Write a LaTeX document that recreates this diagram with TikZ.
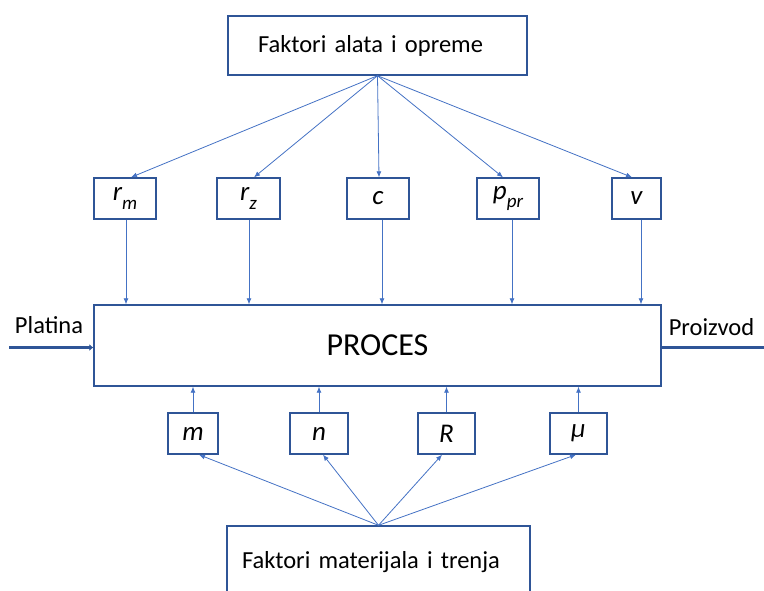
\documentclass[tikz,border=0pt]{standalone}
\usepackage{fontspec}
\setmainfont{Carlito}
\usetikzlibrary{arrows.meta}

\definecolor{boxblue}{HTML}{2F5597}
\definecolor{lineblue}{HTML}{4472C4}
\tikzset{>={Latex[length=6pt,width=5pt]}}
\tikzset{
  bigbox/.style={draw=boxblue,line width=1.4pt,inner ysep=0pt,font=\fontsize{24.5}{26}\selectfont},
  sbox/.style={draw=boxblue,line width=1.4pt,inner sep=0pt,minimum height=41pt,font=\fontsize{27}{28}\selectfont\itshape},
  arr/.style={->,draw=lineblue,line width=0.8pt},
  flow/.style={draw=boxblue,line width=3.8pt},
  side/.style={font=\fontsize{24.5}{26}\selectfont}
}
\newcommand{\sub}[2]{#1\raisebox{-0.3em}{\fontsize{19}{19}\selectfont #2}}

\begin{document}
\begin{tikzpicture}[x=1pt,y=-1pt]
  \useasboundingbox (0,0) rectangle (764,590);
  % factor boxes
  \node[bigbox,inner xsep=30pt,text width=239pt,minimum height=59pt,align=left] (alat) at (377.5,45.5) {Faktori alata i opreme};
  \node[bigbox,inner xsep=15pt,text width=273pt,minimum height=72pt,align=left] (mat) at (378.5,562) {Faktori materijala i trenja};
  \node[bigbox,inner xsep=0pt,minimum width=567pt,minimum height=81pt,font=\fontsize{32}{34}\selectfont] (proc) at (377.5,345.5) {PROCES};
  % tool parameters
  \node[sbox,minimum width=62pt] (rm) at (125,198.5) {\sub{r}{m}};
  \node[sbox,minimum width=63pt] (rz) at (248.5,198.5) {\sub{r}{z}};
  \node[sbox,minimum width=62pt] (c) at (378,198.5) {c};
  \node[sbox,minimum width=62pt] (ppr) at (508,198.5) {\sub{p}{pr}};
  \node[sbox,minimum width=49pt] (v) at (636.5,198.5) {v};
  % material parameters
  \node[sbox,minimum width=50pt] (m) at (193,433.5) {m};
  \node[sbox,minimum width=58pt] (n) at (319,433.5) {n};
  \node[sbox,minimum width=57pt] (R) at (446.5,433.5) {R};
  \node[sbox,minimum width=57pt] (mu) at (578.5,433.5) {μ};
  % input / output
  \node[side] (in) at (49,325) {Platina};
  \node[side] (out) at (711.5,327) {Proizvod};
  \coordinate (inend) at (9,347.5);
  \coordinate (outend) at (764,347.5);

  \foreach \p/\a/\d in {rm/6/1,rz/5.5/0.5,c/1/4,ppr/-5/4,v/-4.5/4.5} {
    \draw[arr] (alat.south) -- ([xshift=\a pt]\p.north);
    \draw[arr] ([xshift=\d pt]\p.south) -- ([xshift=\d pt]\p.south |- proc.north);
  }
  \foreach \p/\a in {m/6,n/4,R/-4.5,mu/-2.5} {
    \draw[arr] (mat.north) -- ([xshift=\a pt]\p.south);
    \draw[arr] (\p.north) -- (\p.north |- proc.south);
  }
  \draw[flow,-{Latex[length=4pt,width=7pt]}] (inend) -- (inend -| proc.west);
  \draw[flow] (proc.east |- outend) -- (outend);
\end{tikzpicture}
\end{document}
